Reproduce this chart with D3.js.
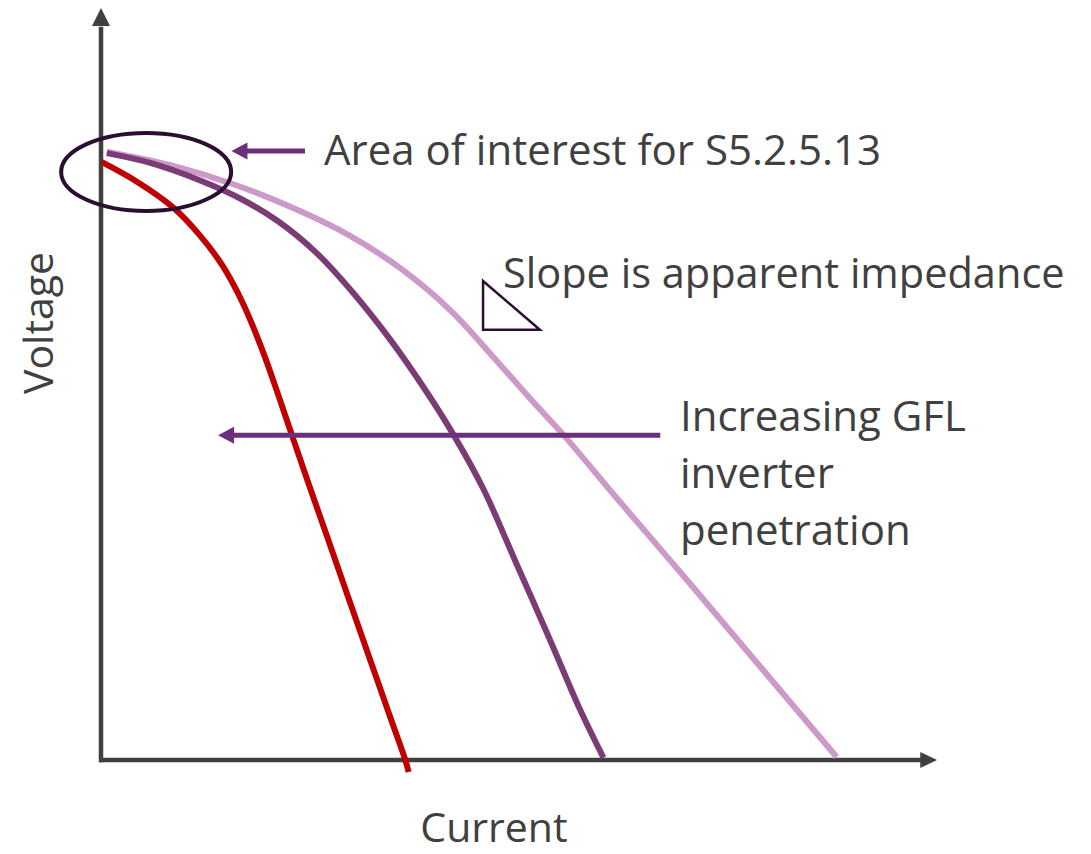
<!DOCTYPE html>
<html>
<head>
<meta charset="utf-8">
<script src="https://cdn.jsdelivr.net/npm/d3@7"></script>
<style>
  body { margin: 0; background: #fff; }
  text { font-family: "Open Sans", sans-serif; fill: #404040; }
</style>
</head>
<body>
<div id="chart"></div>
<script>
// curves as [current, voltage] in relative units (0-100)
const redCurve = [[0.12,79.5],[4.3,76.9],[8.6,73.5],[11.8,69.8],[14.5,65.8],[16.9,60.9],[19.3,54.5],[21.4,47.9],[22.9,43.0],[25.0,36.2],[27.4,28.6],[29.8,20.9],[32.2,13.3],[34.6,5.7],[36.4,0],[36.8,-1.6]]
const darkCurve = [[0.7,80.7],[5.9,79.4],[11.8,77.1],[16.6,74.7],[21.1,71.7],[25.8,67.4],[30.1,62.2],[34.6,55.9],[38.8,49.2],[42.3,43.0],[45.8,35.9],[49.5,26.6],[53.7,16.0],[57.3,6.7],[60.1,0.3]]
const lightCurve = [[0.7,80.9],[8.3,79.1],[16.0,76.5],[23.8,73.0],[29.8,69.7],[35.8,65.4],[41.8,59.8],[46.2,54.5],[51.3,48.1],[55.5,43.0],[61.4,35.2],[70.5,23.4],[79.7,11.3],[88.0,0.4]]
const curveColors = ["#c00000", "#7b3b75", "#cc99c8"]

const xLabel = "Current"
const yLabel = "Voltage"
const noteArea = "Area of interest for S5.2.5.13"
const noteSlope = "Slope is apparent impedance"
const noteGfl = ["Increasing GFL", "inverter", "penetration"]

const width = 1091, height = 854

const svg = d3.select("#chart")
    .append("svg")
    .attr("width", width)
    .attr("height", height)

const x = d3.scaleLinear().domain([0, 100]).range([101, 937])
const y = d3.scaleLinear().domain([0, 100]).range([760, 8])

const axisColor = "#404040"
const purple = "#6b2f7b"

// axes with arrow heads
svg.append("line")
    .attr("x1", x(0)).attr("y1", y(-0.3))
    .attr("x2", x(0)).attr("y2", y(97.5))
    .attr("stroke", axisColor).attr("stroke-width", 4.5)
svg.append("path")
    .attr("d", `M${x(0)},${y(100)} L${x(0) - 9},${y(97.6)} L${x(0) + 9},${y(97.6)} Z`)
    .attr("fill", axisColor)

svg.append("line")
    .attr("x1", x(0) - 2).attr("y1", y(0))
    .attr("x2", x(98.2)).attr("y2", y(0))
    .attr("stroke", axisColor).attr("stroke-width", 4.5)
svg.append("path")
    .attr("d", `M${x(100)},${y(0)} L${x(98)},${y(0) - 8} L${x(98)},${y(0) + 8} Z`)
    .attr("fill", axisColor)

// curves
const line = d3.line()
    .x(d => x(d[0]))
    .y(d => y(d[1]))
    .curve(d3.curveCatmullRom.alpha(0.5))

;[lightCurve, darkCurve, redCurve].forEach(function (data, i) {
      svg.append("path")
      .datum(data)
      .attr("d", line)
      .attr("fill", "none")
      .attr("stroke", curveColors[2 - i])
      .attr("stroke-width", 6)
})

// ellipse round the area of interest
svg.append("ellipse")
    .attr("cx", x(5.4)).attr("cy", y(78.2))
    .attr("rx", 85).attr("ry", 39)
    .attr("fill", "none")
    .attr("stroke", "#2b0f30")
    .attr("stroke-width", 4)

// purple arrows
function arrow(xFrom, xTo, yv) {
      svg.append("line")
      .attr("x1", x(xFrom)).attr("y1", y(yv))
      .attr("x2", x(xTo) + 12).attr("y2", y(yv))
      .attr("stroke", purple).attr("stroke-width", 5)
      svg.append("path")
      .attr("d", `M${x(xTo)},${y(yv)} L${x(xTo) + 16},${y(yv) - 8.5} L${x(xTo) + 16},${y(yv) + 8.5} Z`)
      .attr("fill", purple)
}
arrow(24.4, 15.6, 81.0)
arrow(66.9, 14.0, 43.2)

// slope triangle
svg.append("path")
    .attr("d", `M${x(45.7)},${y(63.7)} L${x(45.7)},${y(57.2)} L${x(52.5)},${y(57.2)} Z`)
    .attr("fill", "none")
    .attr("stroke", "#2b0f30")
    .attr("stroke-width", 2.5)

// texts
svg.append("text")
    .attr("x", 324).attr("y", 165)
    .attr("font-size", 42)
    .text(noteArea)

svg.append("text")
    .attr("x", 503).attr("y", 288)
    .attr("font-size", 41.5)
    .text(noteSlope)

svg.append("text")
    .attr("x", 680).attr("y", 431)
    .attr("font-size", 42)
    .selectAll("tspan")
    .data(noteGfl)
    .join("tspan")
      .attr("x", 680)
      .attr("dy", (d, i) => i === 0 ? 0 : 57)
      .text(d => d)

svg.append("text")
    .attr("x", 494).attr("y", 842)
    .attr("font-size", 41)
    .attr("text-anchor", "middle")
    .text(xLabel)

svg.append("text")
    .attr("transform", "translate(53,323) rotate(-90)")
    .attr("font-size", 41)
    .attr("text-anchor", "middle")
    .text(yLabel)
</script>
</body>
</html>
